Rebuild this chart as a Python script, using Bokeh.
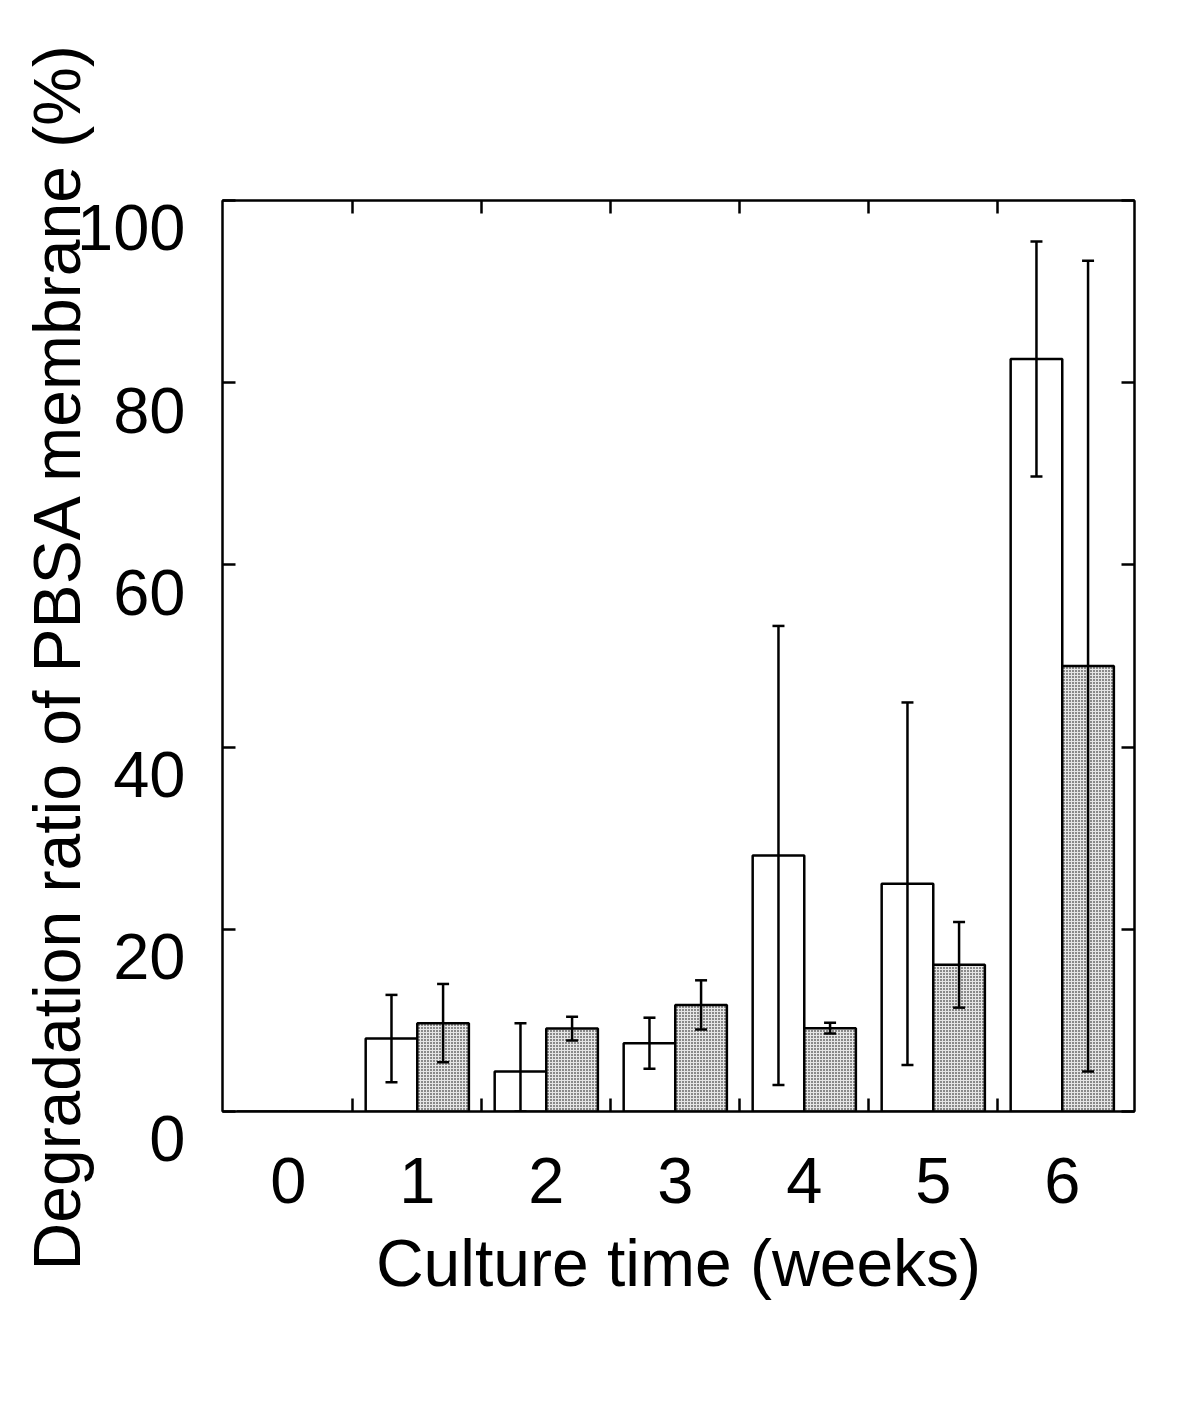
from bokeh.plotting import figure
from bokeh.models import (ColumnDataSource, Range1d, FixedTicker, LinearAxis,
                          Whisker, TeeHead)
from bokeh.transform import dodge
from bokeh.embed import file_html
from bokeh.resources import INLINE

# ---- data ----
weeks = [0, 1, 2, 3, 4, 5, 6]
week_labels = ["0", "1", "2", "3", "4", "5", "6"]
open_vals = [0.0, 8.0, 4.4, 7.5, 28.1, 25.0, 82.6]
open_err = [0.0, 4.8, 5.3, 2.8, 25.2, 19.9, 12.9]
gray_vals = [0.0, 9.7, 9.1, 11.7, 9.15, 16.1, 48.9]
gray_err = [0.0, 4.3, 1.3, 2.7, 0.6, 4.7, 44.5]
y_ticks = [0, 20, 40, 60, 80, 100]
y_tick_labels = ["0", "20", "40", "60", "80", "100"]
x_boundaries = [0.5, 1.5, 2.5, 3.5, 4.5, 5.5]

FONT = "Liberation Sans"
FS = "65px"
TFS = "66px"
BAR_OFF = 0.2
BAR_W = 0.4

src = ColumnDataSource(dict(week=weeks, open=open_vals, gray=gray_vals))

p = figure(width=1176, height=1390,
           x_range=Range1d(-0.51, 6.56), y_range=Range1d(0, 100),
           output_backend="svg", toolbar_location=None,
           min_border_left=222, min_border_right=42,
           min_border_top=200, min_border_bottom=279,
           x_axis_location=None, y_axis_location=None)
p.grid.visible = False
p.outline_line_color = "black"
p.outline_line_width = 2
p.background_fill_color = "white"
p.border_fill_color = "white"

# bars
p.vbar(x=dodge("week", -BAR_OFF, range=p.x_range), top="open", width=BAR_W,
       source=src, fill_color="white", line_color="black", line_width=2.5)
p.vbar(x=dodge("week", BAR_OFF, range=p.x_range), top="gray", width=BAR_W,
       source=src, fill_color="#e6e6e6", line_color="black", line_width=2.5,
       hatch_pattern="dot", hatch_color="black", hatch_scale=3, hatch_weight=1)

# error bars
def whisk(vals, errs, off):
    base, up, lo = [], [], []
    for w, v, e in zip(weeks, vals, errs):
        if e > 0:
            base.append(w + off)
            up.append(v + e)
            lo.append(max(v - e, 0))
    s = ColumnDataSource(dict(base=base, upper=up, lower=lo))
    wk = Whisker(source=s, base="base", upper="upper", lower="lower",
                 dimension="height", line_color="black", line_width=2.5,
                 upper_head=TeeHead(size=12, line_width=2.5, line_color="black"),
                 lower_head=TeeHead(size=12, line_width=2.5, line_color="black"),
                 level="overlay")
    p.add_layout(wk)

whisk(open_vals, open_err, -BAR_OFF)
whisk(gray_vals, gray_err, BAR_OFF)

# bottom axis: labels at week centres, inward ticks at group boundaries
xb = LinearAxis(ticker=FixedTicker(ticks=weeks, minor_ticks=x_boundaries))
xb.major_label_overrides = {w: l for w, l in zip(weeks, week_labels)}
xb.axis_line_width = 2
xb.major_tick_in = 0
xb.major_tick_out = 0
xb.minor_tick_in = 13
xb.minor_tick_out = 0
xb.minor_tick_line_width = 2.5
xb.major_label_text_font = FONT
xb.major_label_text_font_size = FS
xb.major_label_text_color = "black"
xb.major_label_standoff = 46
xb.axis_label = "Culture time (weeks)"
xb.axis_label_text_font = FONT
xb.axis_label_text_font_size = TFS
xb.axis_label_text_font_style = "normal"
xb.axis_label_text_color = "black"
xb.axis_label_standoff = 20
p.add_layout(xb, "below")

# top axis: only inward tick marks (minor ticks carry no labels)
xt = LinearAxis(ticker=FixedTicker(ticks=[], minor_ticks=x_boundaries))
xt.axis_line_width = 2
xt.minor_tick_in = 13
xt.minor_tick_out = 0
xt.minor_tick_line_width = 2.5
p.add_layout(xt, "above")

# left axis with labels; labels sit just below their ticks as in the reference
yl = LinearAxis(ticker=FixedTicker(ticks=y_ticks, minor_ticks=[]))
yl.major_label_overrides = {t: "\n" + l for t, l in zip(y_ticks, y_tick_labels)}
yl.axis_line_width = 2
yl.major_tick_in = 13
yl.major_tick_out = 0
yl.major_tick_line_width = 2.5
yl.major_label_text_font = FONT
yl.major_label_text_font_size = FS
yl.major_label_text_color = "black"
yl.major_label_text_line_height = 0.75
yl.major_label_standoff = 37
yl.axis_label = "Degradation ratio of PBSA membrane (%)"
yl.axis_label_text_font = FONT
yl.axis_label_text_font_size = TFS
yl.axis_label_text_font_style = "normal"
yl.axis_label_text_color = "black"
yl.axis_label_standoff = -20
p.add_layout(yl, "left")

# right axis: only inward tick marks
yr = LinearAxis(ticker=FixedTicker(ticks=[], minor_ticks=y_ticks))
yr.axis_line_width = 2
yr.minor_tick_in = 13
yr.minor_tick_out = 0
yr.minor_tick_line_width = 2.5
p.add_layout(yr, "right")

open("out.html", "w").write(file_html(p, INLINE))
